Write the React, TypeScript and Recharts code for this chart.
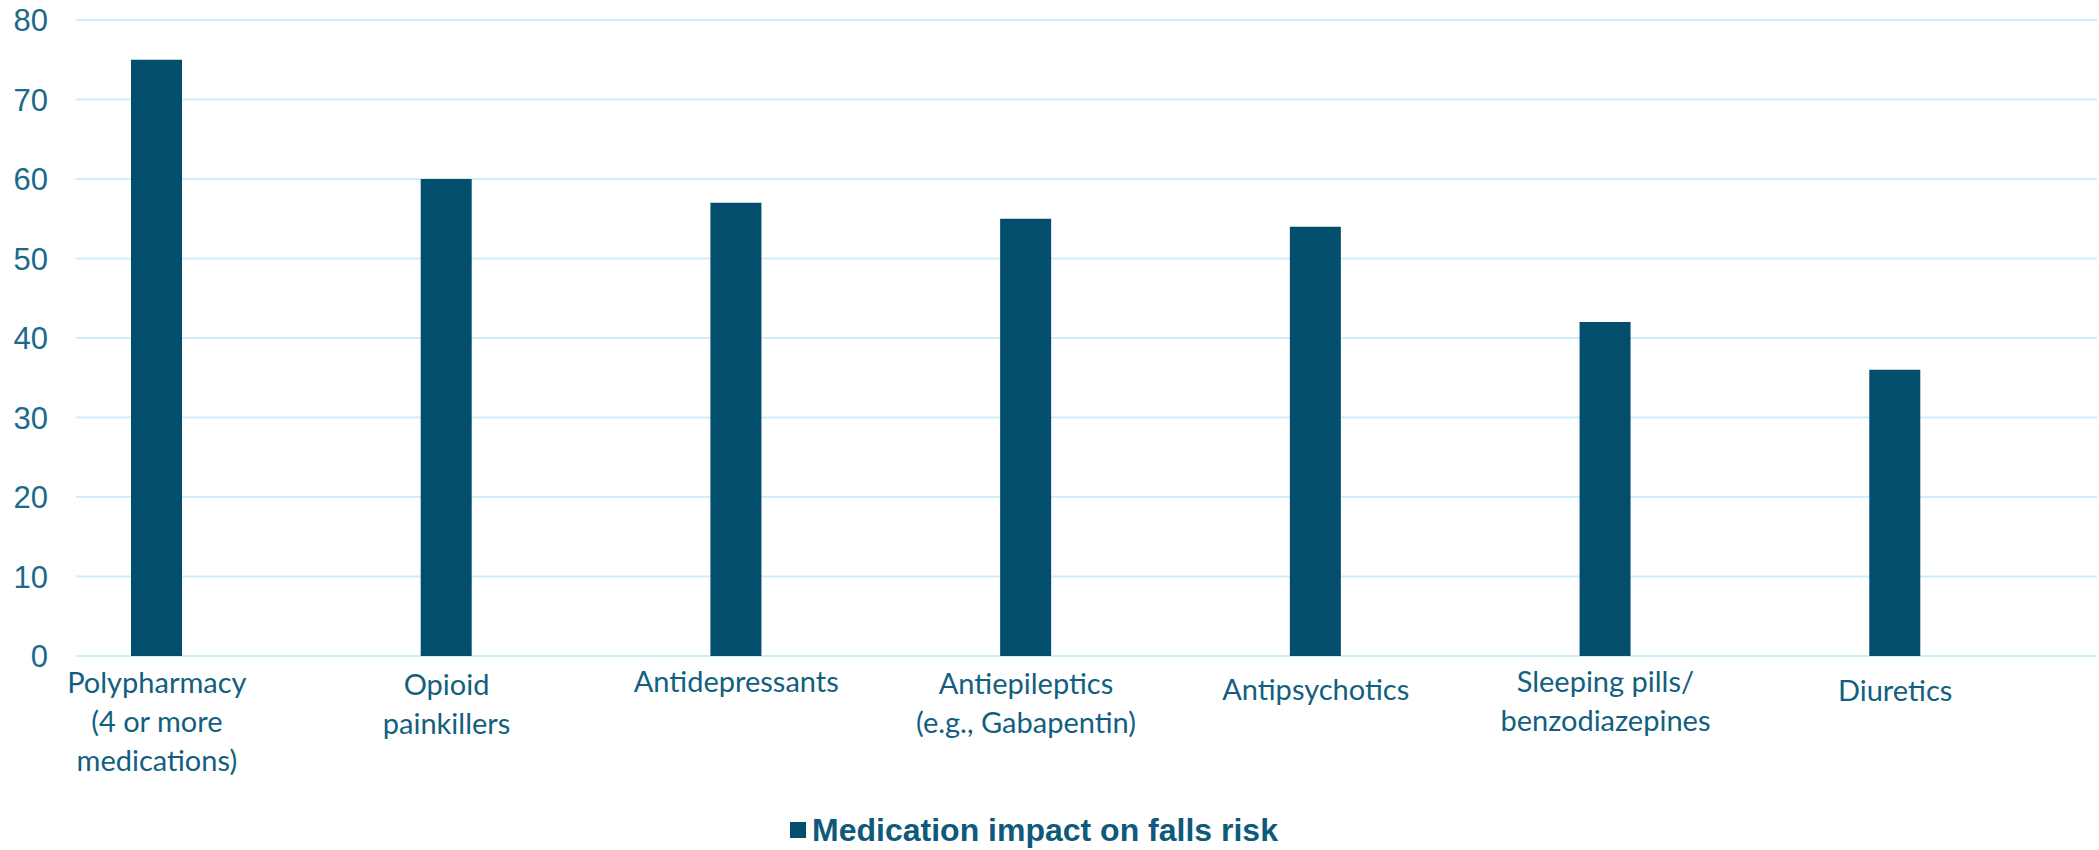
import { Bar, BarChart, CartesianGrid, Legend, XAxis, YAxis } from "recharts";

const categories = [
  "Polypharmacy\n(4 or more\nmedications)",
  "Opioid\npainkillers",
  "Antidepressants",
  "Antiepileptics\n(e.g., Gabapentin)",
  "Antipsychotics",
  "Sleeping pills/\nbenzodiazepines",
  "Diuretics",
];
const impact = [75, 60, 57, 55, 54, 42, 36];
const yTicks = [0, 10, 20, 30, 40, 50, 60, 70, 80];
const seriesName = "Medication impact on falls risk";

const data = categories.map((name, i) => ({ name, value: impact[i] }));

const BAR = "#034e6d";
const TEXT = "#135f80";
const GRID = "#cdeefc";

// small vertical nudges so single-line labels sit like the original
const labelNudge = [0, 2, -1, 1, 7, -1, 8];

function CategoryTick(props: any) {
  const { x, y, payload, index } = props;
  const lines = String(payload.value).split("\n");
  return (
    <text
      x={x}
      y={y}
      textAnchor="middle"
      fill={TEXT}
      style={{ fontFamily: "Lato, 'Open Sans', sans-serif", fontSize: 29 }}
    >
      {lines.map((line, i) => (
        <tspan key={i} x={x} dy={i === 0 ? 37 + (labelNudge[index] ?? 0) : 39}>
          {line}
        </tspan>
      ))}
    </text>
  );
}

function LegendContent() {
  return (
    <div
      style={{
        display: "flex",
        justifyContent: "center",
        alignItems: "center",
        height: 40,
        fontFamily: "'Liberation Sans', Arial, sans-serif",
        fontWeight: 700,
        fontSize: 32,
        color: "#0f5a7a",
      }}
    >
      <span style={{ width: 16, height: 16, background: BAR, marginRight: 6, display: "inline-block" }} />
      <span>{seriesName}</span>
    </div>
  );
}

export default function App() {
  return (
    <div style={{ position: "absolute", left: 0, top: 0, width: 2099, height: 850, background: "#fff" }}>
      <BarChart width={2099} height={850} data={data} margin={{ top: 20, right: 2, left: 0, bottom: 0 }}>
        <CartesianGrid vertical={false} stroke={GRID} strokeWidth={2} />
        <XAxis
          dataKey="name"
          axisLine={false}
          tickLine={false}
          tickSize={0}
          tickMargin={0}
          height={154}
          interval={0}
          padding={{ left: -64, right: 57 }}
          tick={<CategoryTick />}
        />
        <YAxis
          domain={[0, 80]}
          ticks={yTicks}
          width={76}
          axisLine={false}
          tickLine={false}
          tickSize={0}
          tickMargin={28}
          tick={{ fill: "#1b6a8a", fontSize: 31, fontFamily: "'Liberation Sans', Arial, sans-serif" }}
        />
        <Legend
          verticalAlign="bottom"
          content={<LegendContent />}
          wrapperStyle={{ left: 0, width: 2068 }}
        />
        <Bar dataKey="value" name={seriesName} fill={BAR} barSize={51} isAnimationActive={false} />
      </BarChart>
    </div>
  );
}
